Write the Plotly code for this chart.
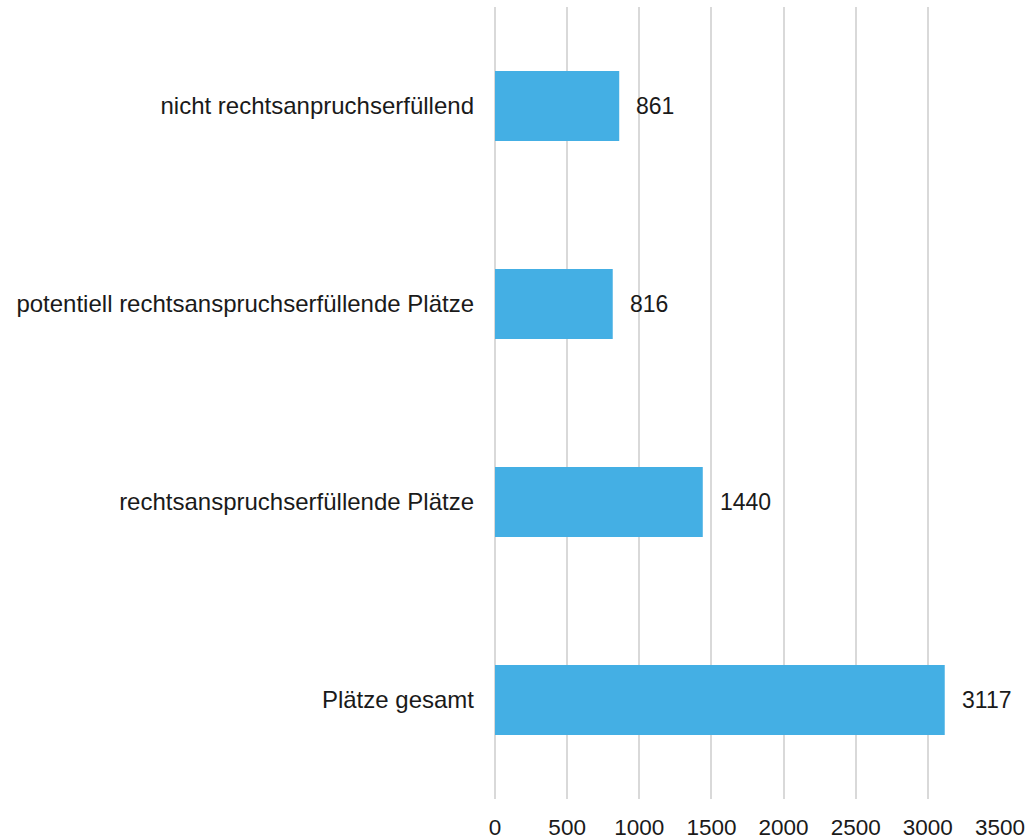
import plotly.graph_objects as go

categories = [
    "nicht rechtsanpruchserfüllend",
    "potentiell rechtsanspruchserfüllende Plätze",
    "rechtsanspruchserfüllende Plätze",
    "Plätze gesamt",
]
values = [861, 816, 1440, 3117]
x_ticks = [0, 500, 1000, 1500, 2000, 2500, 3000, 3500]

FONT = "Liberation Sans, Arial, sans-serif"
TXT = "#1a1a1a"
GRID = "#d9d9d9"

fig = go.Figure()
fig.add_trace(go.Bar(
    y=categories, x=values, orientation="h",
    marker=dict(color="#44AFE4", line=dict(width=0)),
    hoverinfo="skip",
))
for c, v in zip(categories, values):
    fig.add_annotation(x=v, y=c, text=str(v), showarrow=False,
                       xanchor="left", xshift=15,
                       font=dict(family=FONT, size=23, color=TXT))

fig.update_layout(
    width=1031, height=840,
    margin=dict(l=495, r=31, t=7, b=41, autoexpand=False),
    paper_bgcolor="white", plot_bgcolor="white",
    bargap=0.646, showlegend=False,
    font=dict(family=FONT, size=23, color=TXT),
    xaxis=dict(range=[0, 3500], tickvals=x_ticks, ticktext=[str(t) for t in x_ticks],
               showgrid=True, gridcolor=GRID, gridwidth=1.5,
               zeroline=True, zerolinecolor=GRID, zerolinewidth=1.5,
               showline=False, ticks="", ticklabelstandoff=12, automargin=False,
               tickfont=dict(family=FONT, size=22.5, color=TXT)),
    yaxis=dict(autorange="reversed", showgrid=False, zeroline=False, showline=False,
               ticks="", ticklabelstandoff=20, automargin=False,
               tickfont=dict(family=FONT, size=24, color=TXT)),
)
fig.write_html("out.html", config={"displayModeBar": False},
               post_script="document.body.style.margin='0';document.body.style.overflow='hidden';")
